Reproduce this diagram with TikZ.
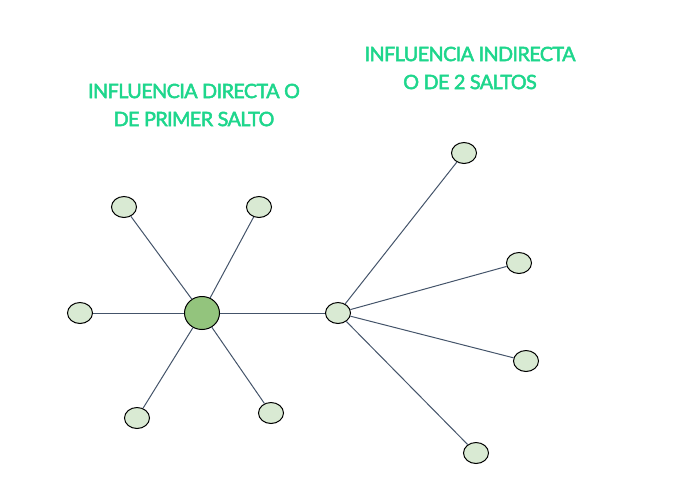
\documentclass[tikz,border=0pt]{standalone}
\usepackage{fontspec}
\setmainfont{Lato}
\newfontfamily\titlefont{Lato}[FakeBold=2.5, LetterSpace=-3]
\usetikzlibrary{shapes.geometric}
\definecolor{titlegreen}{RGB}{30,214,140}
\definecolor{leafgreen}{RGB}{217,234,211}
\definecolor{hubgreen}{RGB}{147,196,125}
\definecolor{linkgray}{RGB}{68,84,106}
\tikzset{%
  % Specifications for style of nodes:
      base/.style = {ellipse, draw=black, line width=1pt, inner sep=0pt},
      leaf/.style = {base, fill=leafgreen, minimum width=25pt, minimum height=21pt},
       hub/.style = {base, fill=hubgreen, minimum width=35pt, minimum height=33pt},
  titletxt/.style = {text=titlegreen, font=\titlefont\fontsize{19.8}{28}\selectfont, align=center},
      link/.style = {draw=linkgray, line width=1pt},
}

\begin{document}
\begin{tikzpicture}[x=1pt, y=-1pt]
  \useasboundingbox (0,0) rectangle (674,493);
  % Specification of nodes (position, etc.)
  \node (direct)   [titletxt] at (194,105) {INFLUENCIA DIRECTA O\\DE PRIMER SALTO};
  \node (indirect) [titletxt] at (470,68)  {INFLUENCIA INDIRECTA\\O DE 2 SALTOS};

  \node (center)   [hub]  at (202,313) {};
  \node (upleft)   [leaf] at (124,207) {};
  \node (upright)  [leaf] at (259,207) {};
  \node (left)     [leaf] at (80,313)  {};
  \node (lowleft)  [leaf] at (137,418) {};
  \node (lowright) [leaf] at (271,413) {};

  \node (hop)      [leaf] at (338,313) {};
  \node (hopone)   [leaf] at (464,153) {};
  \node (hoptwo)   [leaf] at (519,263) {};
  \node (hopthree) [leaf] at (526,361) {};
  \node (hopfour)  [leaf] at (476,453) {};

  % Specification of lines between nodes specified above
  \draw[link] (center) -- (upleft);
  \draw[link] (center) -- (upright);
  \draw[link] (center) -- (left);
  \draw[link] (center) -- (lowleft);
  \draw[link] (center) -- (lowright);
  \draw[link] (center) -- (hop);
  \draw[link] (hop) -- (hopone);
  \draw[link] (hop) -- (hoptwo);
  \draw[link] (hop) -- (hopthree);
  \draw[link] (hop) -- (hopfour);
\end{tikzpicture}
\end{document}
